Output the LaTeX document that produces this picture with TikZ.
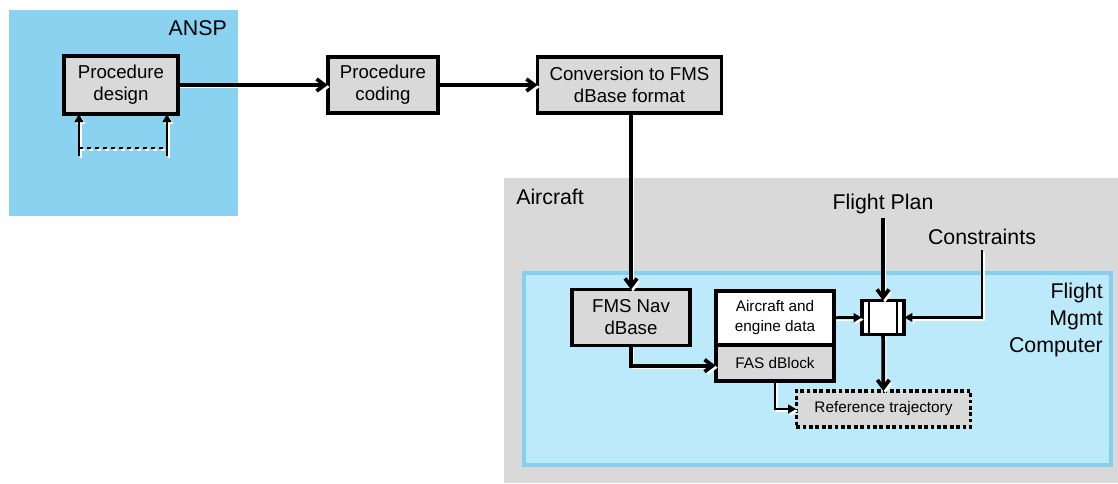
\documentclass[tikz,border=0pt]{standalone}
\usepackage{fontspec}
\setmainfont{Liberation Sans}
\usetikzlibrary{arrows.meta,positioning}

\definecolor{anspblue}{HTML}{8AD2F0}
\definecolor{acgray}{HTML}{D9D9D9}
\definecolor{fmcfill}{HTML}{BDEAFB}
\definecolor{fmcline}{HTML}{86CFEE}

\begin{document}
\begin{tikzpicture}[x=0.75pt,y=-0.75pt,>={Straight Barb[length=6pt,width=9pt]},
  block/.style={draw,line width=2.8pt,fill=acgray,align=center,inner sep=0pt,outer sep=0pt,
    font=\fontsize{14}{16.5}\selectfont},
  smallblock/.style={block,font=\fontsize{11.5}{15}\selectfont},
  lbl/.style={inner sep=0pt,font=\fontsize{16}{20}\selectfont},
  shadowed/.style={preaction={draw=white,line width=1.8pt,
    transform canvas={xshift=1.5pt,yshift=-1.5pt}}},
  flow/.style={->,line width=2.8pt,shadowed},
  thinflow/.style={-{Triangle[length=6pt,width=6.5pt]},line width=2.2pt,shadowed}]

\useasboundingbox (0,0) rectangle (1118,483);

% regions
\fill[anspblue] (9,10) rectangle (238,216);
\fill[acgray] (504,178) rectangle (1118,483);
\draw[fmcline,fill=fmcfill,line width=2.4pt] (524,273) rectangle (1111,465);

\node[lbl,anchor=base east] (ansp) at (227,35) {ANSP};
\node[lbl,anchor=base west] (ac) at (516,204) {Aircraft};
\node[lbl,anchor=north east,align=right] (fmc) at (1103,283) {Flight\\Mgmt\\Computer};

% procedure chain
\node[block,minimum width=86pt,minimum height=43.5pt] (design) at (121,85) {Procedure\\design};
\node[block,minimum width=83pt,minimum height=42pt] (coding) at (383,85) {Procedure\\coding};
\node[block,minimum width=138pt,minimum height=42pt] (conv) at (629.5,85) {Conversion to FMS\\dBase format};

% on board
\node[block,minimum width=88pt,minimum height=42pt] (navdb) at (631,317.5) {FMS Nav\\dBase};
\node[smallblock,fill=white,minimum width=89pt,minimum height=40.5pt] (acdata) at (775,318) {Aircraft and\\engine data};
\node[smallblock,minimum width=89pt,minimum height=27pt,anchor=north] (fas) at (acdata.south) {FAS dBlock};
\node[smallblock,dotted,line width=2.4pt,minimum width=131pt,minimum height=27pt] (ref) at (883.5,409) {Reference trajectory};
\node[draw,fill=white,line width=2.8pt,outer sep=0pt,minimum width=32pt,minimum height=25.5pt] (merge) at (883,317.5) {};
\draw[line width=2pt] ([xshift=5.5pt]merge.north west) -- ([xshift=5.5pt]merge.south west)
  ([xshift=-5.5pt]merge.north east) -- ([xshift=-5.5pt]merge.south east);

\node[lbl,anchor=base] (fp) at (883,209) {Flight Plan};
\node[lbl,anchor=base] (cons) at (982,244) {Constraints};

% design loop
\coordinate (loopa) at (79,156);
\coordinate (loopb) at (167,156);
\draw[thinflow] (loopa) -- (loopa |- design.south);
\draw[thinflow] (loopb) -- (loopb |- design.south);
\draw[line width=1.6pt,white,dashed,transform canvas={xshift=1.5pt,yshift=-1.5pt}] ([yshift=6pt]loopa) -- ([yshift=6pt]loopb);
\draw[dashed,line width=1.8pt] ([yshift=6pt]loopa) -- ([yshift=6pt]loopb);

% connectors
\draw[flow] (design) -- (coding);
\draw[flow] (coding) -- (conv);
\draw[flow] (conv.south -| navdb) -- (navdb.north);
\draw[flow] (navdb.south) |- ([yshift=-2pt]fas.west);
\draw[thinflow] (fas.south) |- (ref.west);
\draw[thinflow] (acdata) -- (merge);
\draw[flow] ([yshift=-3pt]fp.south) -- (merge.north);
\draw[thinflow] ([yshift=-4pt]cons.south) |- (merge.east);
\draw[flow] (merge) -- (ref);
\end{tikzpicture}
\end{document}
